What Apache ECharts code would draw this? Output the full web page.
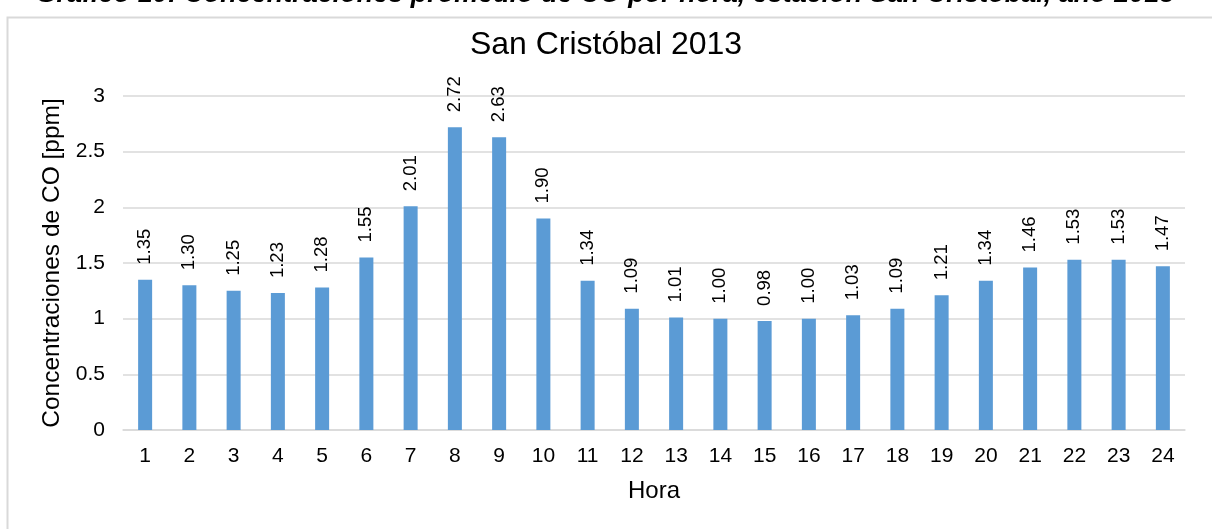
<!DOCTYPE html>
<html>
<head>
<meta charset="utf-8">
<script src="https://cdn.jsdelivr.net/npm/echarts@6/dist/echarts.min.js"></script>
<style>
  html, body { margin: 0; padding: 0; background: #fff; }
  #chart { width: 1212px; height: 529px; }
</style>
</head>
<body>
<div id="chart"></div>
<script>
// Hourly average CO concentration, San Cristóbal station, 2013
const hours = ['1','2','3','4','5','6','7','8','9','10','11','12','13','14','15','16','17','18','19','20','21','22','23','24'];
const coValues = [1.35, 1.30, 1.25, 1.23, 1.28, 1.55, 2.01, 2.72, 2.63, 1.90, 1.34, 1.09,
                  1.01, 1.00, 0.98, 1.00, 1.03, 1.09, 1.21, 1.34, 1.46, 1.53, 1.53, 1.47];
const yTicks = { min: 0, max: 3, interval: 0.5 };

const captionText = 'Gráfico 10: Concentraciones promedio de CO por hora, estación San Cristóbal, año 2013';
const chartTitle = 'San Cristóbal 2013';
const yName = 'Concentraciones de CO [ppm]';
const xName = 'Hora';

const font = 'Arial, "Liberation Sans", sans-serif';
const chart = echarts.init(document.getElementById('chart'));

chart.setOption({
  backgroundColor: '#fff',
  animation: false,
  textStyle: { fontFamily: font },
  title: {
    text: chartTitle,
    left: 'center',
    top: 29,
    padding: 0,
    textStyle: { fontSize: 32, fontWeight: 'normal', color: '#000', fontFamily: font }
  },
  graphic: [
    {
      type: 'rect',
      shape: { x: 7.5, y: 17.5, width: 1250, height: 560 },
      style: { fill: 'none', stroke: '#D9D9D9', lineWidth: 2 },
      silent: true
    },
    {
      type: 'text',
      x: 605,
      y: -5,
      style: {
        text: captionText,
        fill: '#000',
        font: 'italic bold 27px ' + font,
        textAlign: 'center',
        textVerticalAlign: 'middle'
      },
      silent: true
    }
  ],
  grid: { left: 123, right: 27, top: 96, bottom: 99 },
  xAxis: {
    type: 'category',
    data: hours,
    name: xName,
    nameLocation: 'middle',
    nameGap: 49,
    nameTextStyle: { fontSize: 24, color: '#000', fontFamily: font },
    axisLine: { lineStyle: { color: '#D9D9D9', width: 1.5 } },
    axisTick: { show: false },
    axisLabel: { fontSize: 21, color: '#000', margin: 16, fontFamily: font }
  },
  yAxis: {
    type: 'value',
    min: yTicks.min,
    max: yTicks.max,
    interval: yTicks.interval,
    name: yName,
    nameLocation: 'middle',
    nameGap: 55,
    nameTextStyle: { fontSize: 24.5, color: '#000', fontFamily: font },
    axisLine: { show: false },
    axisTick: { show: false },
    splitLine: { lineStyle: { color: '#D9D9D9', width: 1.5 } },
    axisLabel: { fontSize: 21, color: '#000', margin: 18, fontFamily: font }
  },
  series: [{
    type: 'bar',
    data: coValues,
    barWidth: 14,
    itemStyle: { color: '#5B9BD5' },
    label: {
      show: true,
      position: 'top',
      distance: 15,
      rotate: 90,
      align: 'left',
      verticalAlign: 'middle',
      fontSize: 18.5,
      color: '#000',
      fontFamily: font,
      formatter: p => p.value.toFixed(2)
    }
  }]
});
</script>
</body>
</html>
